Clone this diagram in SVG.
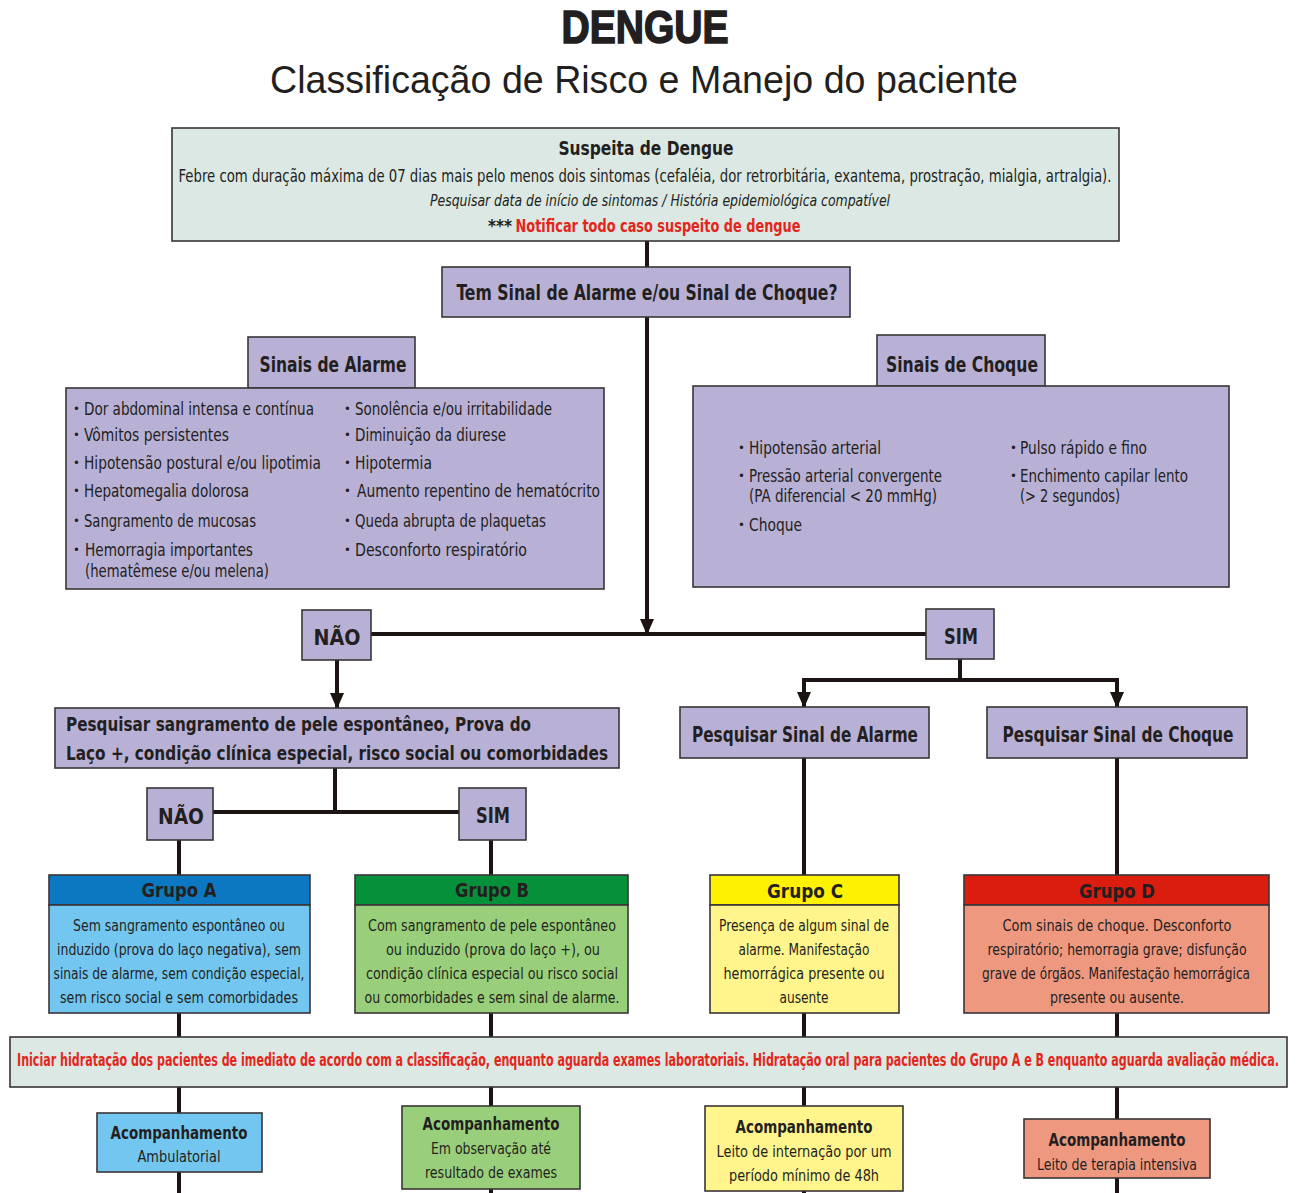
<svg xmlns="http://www.w3.org/2000/svg" width="1301" height="1193" viewBox="0 0 1301 1193">
<defs>
<style>
text{font-family:"Liberation Sans Narrow","DejaVu Sans Condensed","Liberation Sans",sans-serif;fill:#231f20}
.b{font-weight:bold}
.box{stroke:#3a3536;stroke-width:1.6}
.lav{fill:#b8b0d5}
.pale{fill:#dbe8e3}
.c{text-anchor:middle}
.it{font-size:17px}
.bu{font-size:13px}
.gt{font-size:16.5px}
.red{fill:#e3261c}
.con{fill:none;stroke:#1c1412;stroke-width:4}
</style>
<marker id="arr" viewBox="0 0 16 14" refX="15" refY="7" markerWidth="16" markerHeight="14" markerUnits="userSpaceOnUse" orient="auto">
<path d="M0,0 L16,7 L0,14 z" fill="#1c1412"/>
</marker>
</defs>
<rect width="1301" height="1193" fill="#ffffff"/>

<g id="title">
<text x="645" y="43" class="c" style="font-family:'Liberation Sans',sans-serif;font-size:46px;font-weight:900;stroke:#231f20;stroke-width:1.6" textLength="167" lengthAdjust="spacingAndGlyphs">DENGUE</text>
<text x="644" y="93" class="c" style="font-family:'Liberation Sans',sans-serif;font-size:38px" textLength="748" lengthAdjust="spacingAndGlyphs">Classificação de Risco e Manejo do paciente</text>
</g>

<g id="connectors">
<path class="con" d="M647,241 V267"/>
<path class="con" d="M647,317 V634" marker-end="url(#arr)"/>
<path class="con" d="M371,634 H926"/>
<path class="con" d="M337,660 V708" marker-end="url(#arr)"/>
<path class="con" d="M335,768 V812 M213,812 H459"/>
<path class="con" d="M179,840 V875 M491,840 V875"/>
<path class="con" d="M960,659 V680 M802,680 H1119"/>
<path class="con" d="M804,678 V707" marker-end="url(#arr)"/>
<path class="con" d="M1117,678 V707" marker-end="url(#arr)"/>
<path class="con" d="M804,758 V875 M1117,758 V875"/>
<path class="con" d="M179,1013 V1037 M491,1013 V1037 M804,1013 V1037 M1117,1013 V1037"/>
<path class="con" d="M179,1087 V1113 M491,1087 V1106 M804,1087 V1106 M1117,1087 V1119"/>
<path class="con" d="M179,1172 V1193 M491,1189 V1193 M804,1191 V1193 M1117,1178 V1193"/>
</g>

<g id="suspeita">
<rect class="box pale" x="172" y="128" width="947" height="113"/>
<text x="646" y="155" class="c b" font-size="20" textLength="175" lengthAdjust="spacingAndGlyphs">Suspeita de Dengue</text>
<text x="645" y="182" class="c" font-size="17" textLength="933" lengthAdjust="spacingAndGlyphs">Febre com duração máxima de 07 dias mais pelo menos dois sintomas (cefaléia, dor retrorbitária, exantema, prostração, mialgia, artralgia).</text>
<text x="660" y="206" class="c" font-size="16" font-style="italic" textLength="460" lengthAdjust="spacingAndGlyphs">Pesquisar data de início de sintomas / História epidemiológica compatível</text>
<text x="500" y="232" class="c b" font-size="17">***</text>
<text x="658" y="232" class="c b red" font-size="17" textLength="285" lengthAdjust="spacingAndGlyphs">Notificar todo caso suspeito de dengue</text>
</g>

<g id="pergunta">
<rect class="box lav" x="442" y="267" width="408" height="50"/>
<text x="647" y="300" class="c b" font-size="21" textLength="381" lengthAdjust="spacingAndGlyphs">Tem Sinal de Alarme e/ou Sinal de Choque?</text>
</g>

<g id="sinais-alarme">
<rect class="box lav" x="248" y="337" width="167" height="51"/>
<text x="333" y="372" class="c b" font-size="21" textLength="147" lengthAdjust="spacingAndGlyphs">Sinais de Alarme</text>
<rect class="box lav" x="66" y="388" width="538" height="201"/>
<g class="bu">
<text x="73" y="413">•</text><text x="73" y="439">•</text><text x="73" y="467">•</text><text x="73" y="495">•</text><text x="73" y="525">•</text><text x="73" y="554">•</text>
<text x="344" y="413">•</text><text x="344" y="439">•</text><text x="344" y="467">•</text><text x="344" y="495">•</text><text x="344" y="525">•</text><text x="344" y="554">•</text>
</g>
<g class="it">
<text x="84" y="415" textLength="230" lengthAdjust="spacingAndGlyphs">Dor abdominal intensa e contínua</text>
<text x="84" y="441" textLength="145" lengthAdjust="spacingAndGlyphs">Vômitos persistentes</text>
<text x="84" y="469" textLength="237" lengthAdjust="spacingAndGlyphs">Hipotensão postural e/ou lipotimia</text>
<text x="84" y="497" textLength="165" lengthAdjust="spacingAndGlyphs">Hepatomegalia dolorosa</text>
<text x="84" y="527" textLength="172" lengthAdjust="spacingAndGlyphs">Sangramento de mucosas</text>
<text x="85" y="556" textLength="168" lengthAdjust="spacingAndGlyphs">Hemorragia importantes</text>
<text x="85" y="577" textLength="184" lengthAdjust="spacingAndGlyphs">(hematêmese e/ou melena)</text>
<text x="355" y="415" textLength="197" lengthAdjust="spacingAndGlyphs">Sonolência e/ou irritabilidade</text>
<text x="355" y="441" textLength="151" lengthAdjust="spacingAndGlyphs">Diminuição da diurese</text>
<text x="355" y="469" textLength="77" lengthAdjust="spacingAndGlyphs">Hipotermia</text>
<text x="357" y="497" textLength="243" lengthAdjust="spacingAndGlyphs">Aumento repentino de hematócrito</text>
<text x="355" y="527" textLength="191" lengthAdjust="spacingAndGlyphs">Queda abrupta de plaquetas</text>
<text x="355" y="556" textLength="172" lengthAdjust="spacingAndGlyphs">Desconforto respiratório</text>
</g>
</g>

<g id="sinais-choque">
<rect class="box lav" x="877" y="335" width="168" height="51"/>
<text x="962" y="372" class="c b" font-size="21" textLength="152" lengthAdjust="spacingAndGlyphs">Sinais de Choque</text>
<rect class="box lav" x="693" y="386" width="536" height="201"/>
<g class="bu">
<text x="738" y="452">•</text><text x="738" y="480">•</text><text x="738" y="529">•</text>
<text x="1010" y="452">•</text><text x="1010" y="480">•</text>
</g>
<g class="it">
<text x="749" y="454" textLength="132" lengthAdjust="spacingAndGlyphs">Hipotensão arterial</text>
<text x="749" y="482" textLength="193" lengthAdjust="spacingAndGlyphs">Pressão arterial convergente</text>
<text x="749" y="502" textLength="188" lengthAdjust="spacingAndGlyphs">(PA diferencial &lt; 20 mmHg)</text>
<text x="749" y="531" textLength="53" lengthAdjust="spacingAndGlyphs">Choque</text>
<text x="1020" y="454" textLength="127" lengthAdjust="spacingAndGlyphs">Pulso rápido e fino</text>
<text x="1020" y="482" textLength="168" lengthAdjust="spacingAndGlyphs">Enchimento capilar lento</text>
<text x="1020" y="502" textLength="100" lengthAdjust="spacingAndGlyphs">(&gt; 2 segundos)</text>
</g>
</g>

<g id="nao1">
<rect class="box lav" x="302" y="610" width="69" height="50"/>
<text x="337" y="645" class="c b" font-size="21" textLength="47" lengthAdjust="spacingAndGlyphs">NÃO</text>
</g>
<g id="sim1">
<rect class="box lav" x="926" y="609" width="68" height="50"/>
<text x="961" y="644" class="c b" font-size="21" textLength="34" lengthAdjust="spacingAndGlyphs">SIM</text>
</g>

<g id="pesquisar-sangramento">
<rect class="box lav" x="55" y="708" width="564" height="60"/>
<text x="66" y="731" class="b" font-size="20" textLength="465" lengthAdjust="spacingAndGlyphs">Pesquisar sangramento de pele espontâneo, Prova do</text>
<text x="66" y="760" class="b" font-size="20" textLength="542" lengthAdjust="spacingAndGlyphs">Laço +, condição clínica especial, risco social ou comorbidades</text>
</g>

<g id="pesquisar-alarme">
<rect class="box lav" x="680" y="707" width="249" height="51"/>
<text x="805" y="742" class="c b" font-size="21" textLength="226" lengthAdjust="spacingAndGlyphs">Pesquisar Sinal de Alarme</text>
</g>
<g id="pesquisar-choque">
<rect class="box lav" x="987" y="707" width="260" height="51"/>
<text x="1118" y="742" class="c b" font-size="21" textLength="231" lengthAdjust="spacingAndGlyphs">Pesquisar Sinal de Choque</text>
</g>

<g id="nao2">
<rect class="box lav" x="147" y="788" width="66" height="52"/>
<text x="181" y="824" class="c b" font-size="21" textLength="46" lengthAdjust="spacingAndGlyphs">NÃO</text>
</g>
<g id="sim2">
<rect class="box lav" x="459" y="788" width="67" height="52"/>
<text x="493" y="823" class="c b" font-size="21" textLength="34" lengthAdjust="spacingAndGlyphs">SIM</text>
</g>

<g id="grupo-a">
<rect class="box" x="49" y="875" width="261" height="30" fill="#0b78c1"/>
<rect class="box" x="49" y="905" width="261" height="108" fill="#72c6f0"/>
<text x="179" y="897" class="c b" font-size="19" textLength="75" lengthAdjust="spacingAndGlyphs">Grupo A</text>
<g class="gt">
<text x="179" y="931" class="c" textLength="212" lengthAdjust="spacingAndGlyphs">Sem sangramento espontâneo ou</text>
<text x="179" y="955" class="c" textLength="244" lengthAdjust="spacingAndGlyphs">induzido (prova do laço negativa), sem</text>
<text x="179" y="979" class="c" textLength="251" lengthAdjust="spacingAndGlyphs">sinais de alarme, sem condição especial,</text>
<text x="179" y="1003" class="c" textLength="238" lengthAdjust="spacingAndGlyphs">sem risco social e sem comorbidades</text>
</g>
</g>

<g id="grupo-b">
<rect class="box" x="355" y="875" width="273" height="30" fill="#05913a"/>
<rect class="box" x="355" y="905" width="273" height="108" fill="#99cf7a"/>
<text x="492" y="897" class="c b" font-size="19" textLength="74" lengthAdjust="spacingAndGlyphs">Grupo B</text>
<g class="gt">
<text x="492" y="931" class="c" textLength="248" lengthAdjust="spacingAndGlyphs">Com sangramento de pele espontâneo</text>
<text x="493" y="955" class="c" textLength="214" lengthAdjust="spacingAndGlyphs">ou induzido (prova do laço +), ou</text>
<text x="492" y="979" class="c" textLength="252" lengthAdjust="spacingAndGlyphs">condição clínica especial ou risco social</text>
<text x="492" y="1003" class="c" textLength="255" lengthAdjust="spacingAndGlyphs">ou comorbidades e sem sinal de alarme.</text>
</g>
</g>

<g id="grupo-c">
<rect class="box" x="710" y="875" width="189" height="30" fill="#fff200"/>
<rect class="box" x="710" y="905" width="189" height="108" fill="#fff58c"/>
<text x="805" y="898" class="c b" font-size="19" textLength="76" lengthAdjust="spacingAndGlyphs">Grupo C</text>
<g class="gt">
<text x="804" y="931" class="c" textLength="170" lengthAdjust="spacingAndGlyphs">Presença de algum sinal de</text>
<text x="804" y="955" class="c" textLength="131" lengthAdjust="spacingAndGlyphs">alarme. Manifestação</text>
<text x="804" y="979" class="c" textLength="161" lengthAdjust="spacingAndGlyphs">hemorrágica presente ou</text>
<text x="804" y="1003" class="c" textLength="49" lengthAdjust="spacingAndGlyphs">ausente</text>
</g>
</g>

<g id="grupo-d">
<rect class="box" x="964" y="875" width="305" height="30" fill="#da1d0f"/>
<rect class="box" x="964" y="905" width="305" height="108" fill="#ee9880"/>
<text x="1117" y="898" class="c b" font-size="19" textLength="76" lengthAdjust="spacingAndGlyphs">Grupo D</text>
<g class="gt">
<text x="1117" y="931" class="c" textLength="229" lengthAdjust="spacingAndGlyphs">Com sinais de choque. Desconforto</text>
<text x="1117" y="955" class="c" textLength="259" lengthAdjust="spacingAndGlyphs">respiratório; hemorragia grave; disfunção</text>
<text x="1116" y="979" class="c" textLength="268" lengthAdjust="spacingAndGlyphs">grave de órgãos. Manifestação hemorrágica</text>
<text x="1117" y="1003" class="c" textLength="134" lengthAdjust="spacingAndGlyphs">presente ou ausente.</text>
</g>
</g>

<g id="hidratacao">
<rect class="box pale" x="10" y="1037" width="1277" height="50"/>
<text x="648" y="1066" class="c b red" font-size="18" textLength="1262" lengthAdjust="spacingAndGlyphs">Iniciar hidratação dos pacientes de imediato de acordo com a classificação, enquanto aguarda exames laboratoriais. Hidratação oral para pacientes do Grupo A e B enquanto aguarda avaliação médica.</text>
</g>

<g id="acomp-a">
<rect class="box" x="97" y="1113" width="165" height="59" fill="#72c6f0"/>
<text x="179" y="1139" class="c b" font-size="17" textLength="137" lengthAdjust="spacingAndGlyphs">Acompanhamento</text>
<text x="179" y="1162" class="c" font-size="16" textLength="83" lengthAdjust="spacingAndGlyphs">Ambulatorial</text>
</g>
<g id="acomp-b">
<rect class="box" x="402" y="1106" width="178" height="83" fill="#99cf7a"/>
<text x="491" y="1130" class="c b" font-size="17" textLength="137" lengthAdjust="spacingAndGlyphs">Acompanhamento</text>
<text x="491" y="1154" class="c" font-size="16" textLength="120" lengthAdjust="spacingAndGlyphs">Em observação até</text>
<text x="491" y="1178" class="c" font-size="16" textLength="132" lengthAdjust="spacingAndGlyphs">resultado de exames</text>
</g>
<g id="acomp-c">
<rect class="box" x="705" y="1106" width="198" height="85" fill="#fff58c"/>
<text x="804" y="1133" class="c b" font-size="17" textLength="137" lengthAdjust="spacingAndGlyphs">Acompanhamento</text>
<text x="804" y="1157" class="c" font-size="16" textLength="175" lengthAdjust="spacingAndGlyphs">Leito de internação por um</text>
<text x="804" y="1181" class="c" font-size="16" textLength="150" lengthAdjust="spacingAndGlyphs">período mínimo de 48h</text>
</g>
<g id="acomp-d">
<rect class="box" x="1024" y="1119" width="186" height="59" fill="#ee9880"/>
<text x="1117" y="1146" class="c b" font-size="17" textLength="137" lengthAdjust="spacingAndGlyphs">Acompanhamento</text>
<text x="1117" y="1170" class="c" font-size="16" textLength="160" lengthAdjust="spacingAndGlyphs">Leito de terapia intensiva</text>
</g>
</svg>
